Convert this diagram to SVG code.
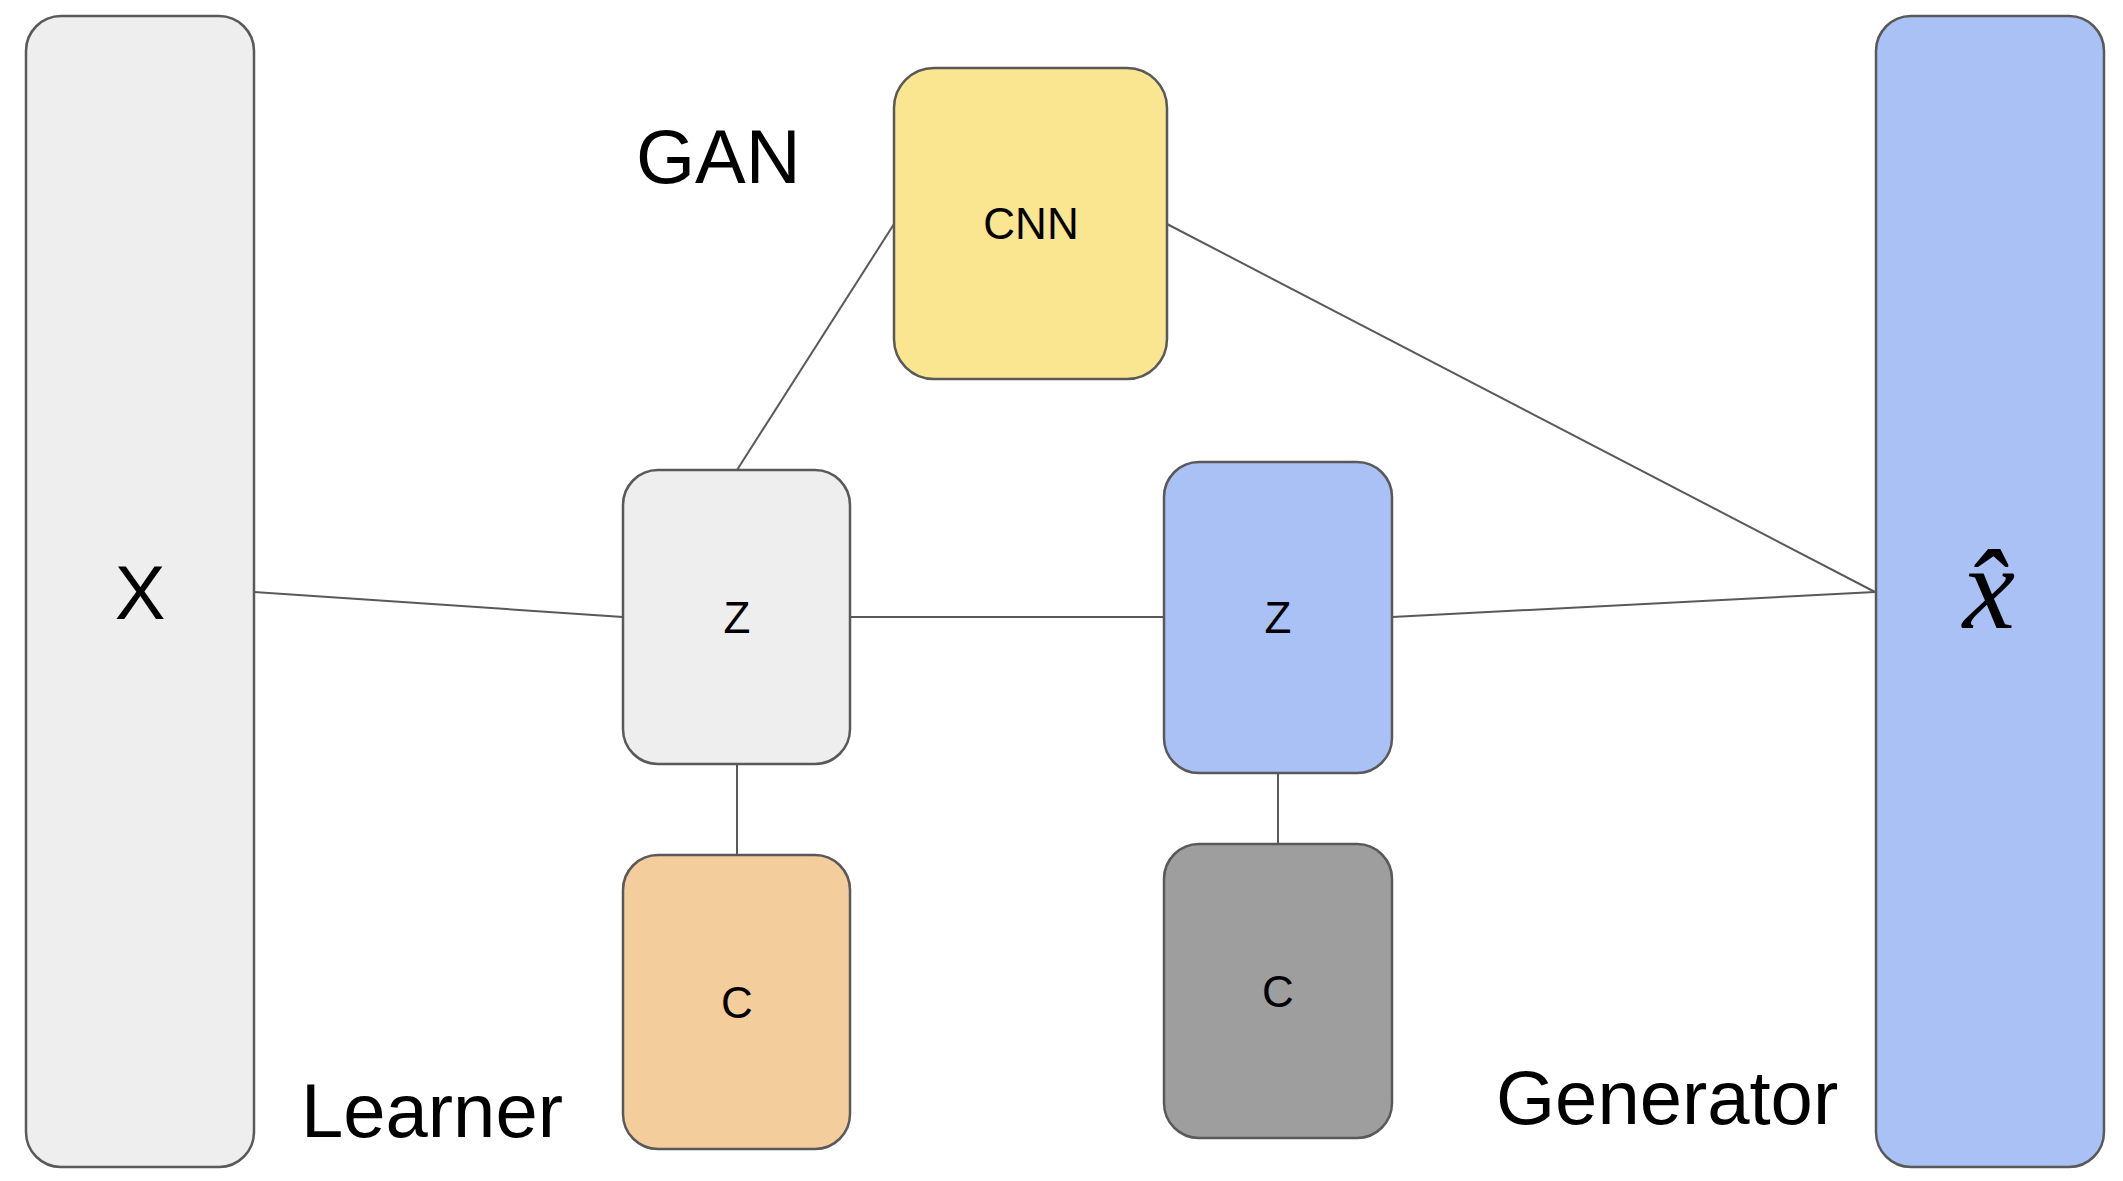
<svg xmlns="http://www.w3.org/2000/svg" width="2123" height="1181" viewBox="0 0 2123 1181">
<style>
.box{stroke:#595959;stroke-width:2.5}
.lbl{font-family:"Liberation Sans",Arial,sans-serif;fill:#000;text-anchor:middle}
.big{font-family:"Liberation Sans",Arial,sans-serif;fill:#000;font-size:76px}
.con{stroke:#595959;stroke-width:2;fill:none}
</style>
<rect width="2123" height="1181" fill="#ffffff"/>
<g id="connectors">
<line class="con" x1="253" y1="592" x2="623" y2="617"/>
<line class="con" x1="850" y1="617" x2="1164" y2="617"/>
<line class="con" x1="1392" y1="617" x2="1875" y2="592"/>
<line class="con" x1="737" y1="470" x2="894" y2="224"/>
<line class="con" x1="1167" y1="224" x2="1875" y2="592"/>
<line class="con" x1="737" y1="764" x2="737" y2="855"/>
<line class="con" x1="1278" y1="773" x2="1278" y2="844"/>
</g>
<g id="node-X">
<rect class="box" x="26" y="16" width="228" height="1151" rx="35" fill="#eeeeee"/>
<text class="lbl" x="140" y="619" font-size="76">X</text>
</g>
<g id="node-xhat">
<rect class="box" x="1876" y="16" width="228" height="1151" rx="35" fill="#a9c1f4"/>
<text x="1989" y="628" font-family="'Liberation Serif','Times New Roman',serif" font-style="italic" font-size="118" text-anchor="middle" fill="#000">x̂</text>
</g>
<g id="node-CNN">
<rect class="box" x="894" y="68" width="273" height="311" rx="40" fill="#fae591"/>
<text class="lbl" x="1031" y="239" font-size="44">CNN</text>
</g>
<g id="node-Z1">
<rect class="box" x="623" y="470" width="227" height="294" rx="35" fill="#eeeeee"/>
<text class="lbl" x="737" y="633" font-size="44">Z</text>
</g>
<g id="node-Z2">
<rect class="box" x="1164" y="462" width="228" height="311" rx="35" fill="#a9c1f4"/>
<text class="lbl" x="1278" y="633" font-size="44">Z</text>
</g>
<g id="node-C1">
<rect class="box" x="623" y="855" width="227" height="294" rx="35" fill="#f3cd9c"/>
<text class="lbl" x="737" y="1018" font-size="44">C</text>
</g>
<g id="node-C2">
<rect class="box" x="1164" y="844" width="228" height="294" rx="35" fill="#9e9e9e"/>
<text class="lbl" x="1278" y="1007" font-size="44">C</text>
</g>
<g id="labels">
<text class="big" x="636" y="183">GAN</text>
<text class="big" x="301" y="1137">Learner</text>
<text class="big" x="1496" y="1124">Generator</text>
</g>
</svg>
